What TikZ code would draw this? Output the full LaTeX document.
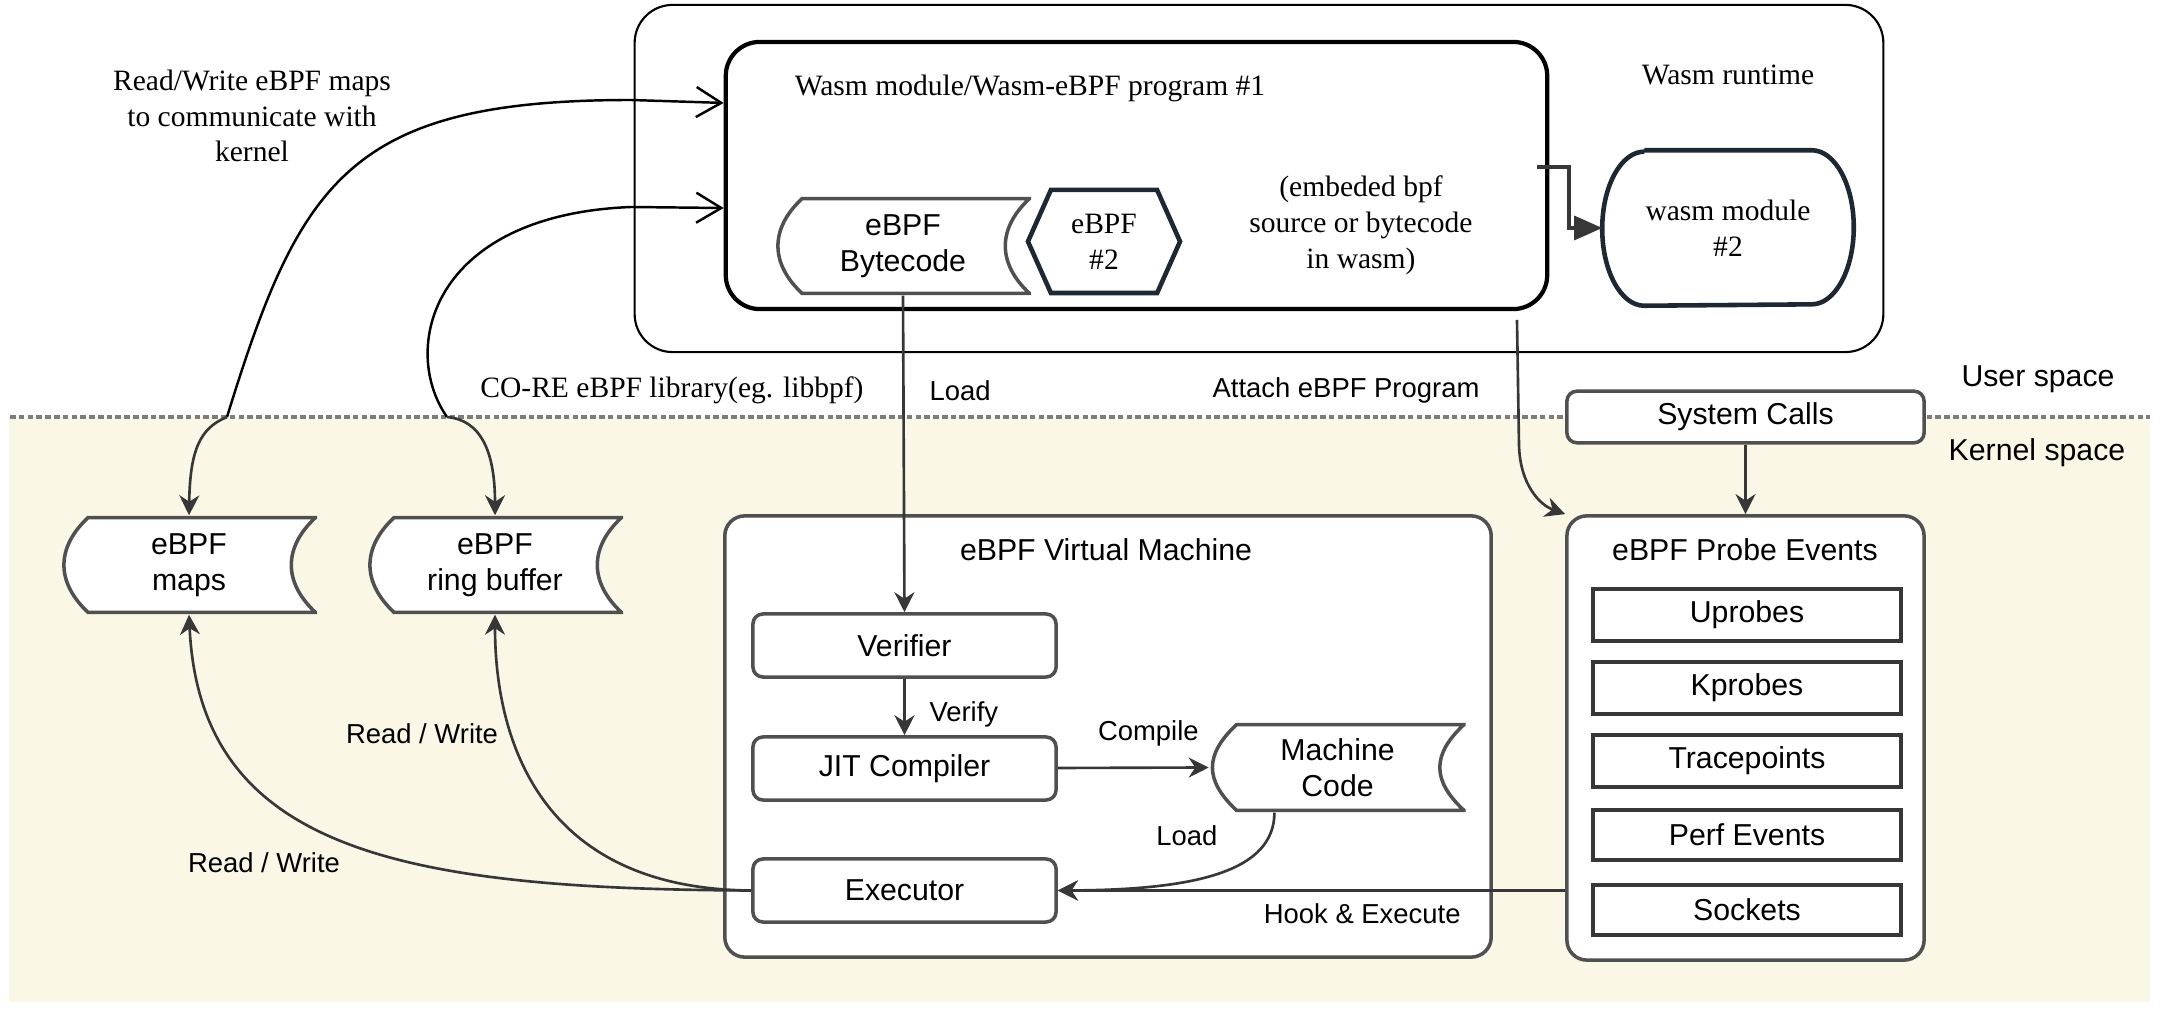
\documentclass[tikz,border=0pt]{standalone}
\usepackage{fontspec}
\setmainfont{Liberation Serif}
\setsansfont{Liberation Sans}
\usetikzlibrary{arrows.meta,shapes.symbols}

\definecolor{kbeige}{RGB}{251,247,231}
\definecolor{kline}{RGB}{55,55,55}
\definecolor{kbox}{RGB}{80,80,80}
\definecolor{knavy}{RGB}{30,40,50}
\definecolor{kdash}{RGB}{125,125,125}

\begin{document}
\begin{tikzpicture}[x=0.01cm, y=-0.01cm,
    serif/.style={font=\fontsize{8.4}{10.2}\selectfont, align=center},
    sans/.style={font=\sffamily\fontsize{8.6}{10.2}\selectfont, align=center},
    lbl/.style={font=\sffamily\fontsize{7.8}{9}\selectfont},
    box/.style={draw=kbox, line width=1pt, fill=white, rounded corners=1mm, sans, minimum width=3.03cm, minimum height=0.63cm},
    probe/.style={draw=kline, line width=1pt, fill=white, sans, minimum width=3.08cm, minimum height=0.5cm},
    store/.style={sans, inner sep=0pt, minimum width=2.56cm, minimum height=#1, path picture={
      \draw[kbox, line width=1pt, fill=white]
        ([shift={(2.7mm,-0.5pt)}]path picture bounding box.north west)
        -- ([shift={(-0.5pt,-0.5pt)}]path picture bounding box.north east)
        .. controls +(-3.2mm,-3mm) and +(-3.2mm,3mm) .. ([shift={(-0.5pt,0.5pt)}]path picture bounding box.south east)
        -- ([shift={(2.7mm,0.5pt)}]path picture bounding box.south west)
        .. controls +(-3.2mm,3mm) and +(-3.2mm,-3mm) .. ([shift={(2.7mm,-0.5pt)}]path picture bounding box.north west)
        -- cycle;}},
    arr/.style={draw=kline, line width=0.75pt, -{Stealth[length=2mm, width=2mm]}},
    barb/.style={draw=black, line width=0.7pt, -{Straight Barb[length=2.5mm, width=3mm]}}]

    \useasboundingbox (0,0) rectangle (2168,1016);
    \fill[white] (0,0) rectangle (2168,1016);

    % kernel space
    \fill[kbeige] (9,417) rectangle (2150,1002);
    \draw[kdash, line width=1pt, dash pattern=on 1.6pt off 0.9pt] (10,417) -- (2150,417);
    \node[sans] (user) at (2038,379) {User space};
    \node[sans] (kern) at (2037,453) {Kernel space};

    % Wasm runtime
    \node[draw, line width=0.6pt, rounded corners=3.8mm, minimum width=12.48cm, minimum height=3.47cm] (runtime) at (1259,178.5) {};
    \node[serif] (rtlabel) at (1728,75) {Wasm runtime};
    \node[draw, line width=1.2pt, rounded corners=3.4mm, minimum width=8.21cm, minimum height=2.67cm] (prog) at (1136.5,175.5) {};
    \node[serif] (proglabel) at (1030,88) {Wasm module/Wasm-eBPF program \#1};
    \node[store=0.98cm] (bytecode) at (903,246) {eBPF\\Bytecode};
    \node[signal, signal to=west and east, signal pointer angle=132, draw=knavy, line width=1.3pt, serif, minimum width=1.52cm, minimum height=1.03cm, inner sep=0pt] (ebpf2) at (1104,241.5) {eBPF\\\#2};
    \node[serif] (embed) at (1361,225) {(embeded bpf\\source or bytecode\\in wasm)};
    \node[serif, minimum width=2.5cm, minimum height=1.54cm] (wmod) at (1728,228) {wasm module\\\#2};
    \draw[knavy, line width=1.3pt] ([xshift=4.2mm]wmod.north west) -- ([xshift=-4.2mm]wmod.north east)
        arc[start angle=90, end angle=-90, x radius=4.2mm, y radius=7.7mm]
        -- ([xshift=4.2mm]wmod.south west)
        arc[start angle=270, end angle=90, x radius=4.2mm, y radius=7.7mm];
    \coordinate (tap) at (1537,167);
    \draw[draw=kline, line width=0.9pt, -{Triangle[length=2.8mm, width=2.4mm]}] (tap) -- (1569,167) |- (wmod.west);

    % maps and ring buffer
    \node[store=0.98cm] (maps) at (189,565) {eBPF\\maps};
    \node[store=0.98cm] (ring) at (495,565) {eBPF\\ring buffer};
    \node[serif] (rwtext) at (252,116) {Read/Write eBPF maps\\to communicate with\\kernel};
    \node[serif] (core) at (672,390) {CO-RE eBPF library(eg. libbpf)};
    \coordinate (mj) at (227,417);
    \coordinate (rj) at (447,417);
    \draw[barb] (mj) .. controls (300,180) and (350,100) .. (631,100) -- ([yshift=7.25mm]prog.west);
    \draw[barb] (rj) .. controls (400,350) and (430,215) .. (631,207) -- ([yshift=-3.25mm]prog.west);
    \draw[arr] (mj) .. controls (200,428) and (190,450) .. (maps.north);
    \draw[arr] (rj) .. controls (480,420) and (495,450) .. (ring.north);

    % eBPF virtual machine
    \node[draw=kbox, line width=1pt, fill=white, rounded corners=2mm, minimum width=7.66cm, minimum height=4.41cm] (vm) at (1108,736.5) {};
    \node[sans] (vmlabel) at (1106,550) {eBPF Virtual Machine};
    \node[box] (verifier) at (904.5,645.5) {Verifier};
    \node[box] (jit) at (904.5,768.5) {JIT Compiler};
    \node[box] (executor) at (904.5,890.5) {Executor};
    \node[store=0.89cm] (mcode) at (1337.5,767.5) {Machine\\Code};

    % probe events
    \node[draw=kbox, line width=1pt, fill=white, rounded corners=1mm, sans, minimum width=3.57cm, minimum height=0.48cm] (syscalls) at (1745.5,417) {System Calls};
    \node[draw=kbox, line width=1pt, fill=white, rounded corners=2mm, minimum width=3.57cm, minimum height=4.44cm] (probes) at (1745.5,738) {};
    \node[sans] (probelabel) at (1745,550) {eBPF Probe Events};
    \foreach \y/\name/\txt in {615/up/Uprobes, 688/kp/Kprobes, 761/tp/Tracepoints, 835/pe/Perf Events, 910/so/Sockets}
        \node[probe] (\name) at (1747,\y) {\txt};

    % connectors
    \draw[arr] (bytecode.south) -- node[lbl, right=1.3mm, pos=0.3] (loadlbl) {Load} (verifier.north);
    \draw[arr] (verifier) -- node[lbl, right=1.2mm, pos=0.63] (verlbl) {Verify} (jit);
    \draw[arr] (jit) -- node[lbl, above=0.8mm, pos=0.6] (complbl) {Compile} (mcode.west);
    \draw[arr] ([xshift=-6.3mm]mcode.south) .. controls (1274,870) and (1200,890) .. (executor.east);
    \node[lbl] (load2lbl) at (1187,836) {Load};
    \draw[arr] (executor.east -| probes.west) -- node[lbl, below, pos=0.4] (hooklbl) {Hook \& Execute} (executor.east);
    \draw[arr] (syscalls) -- (probes);
    \coordinate (atk) at (1517,320);
    \draw[arr] (atk) -- (1519,445) .. controls (1520,485) and (1540,505) .. (probes.north west);
    \node[lbl] (attach) at (1346,390) {Attach eBPF Program};
    \draw[arr] (executor.west) .. controls (400,889) and (200,850) .. (maps.south);
    \draw[arr] (executor.west) .. controls (540,889) and (495,740) .. (ring.south);
    \node[lbl] (rw1) at (422,734) {Read / Write};
    \node[lbl] (rw2) at (264,863) {Read / Write};

\end{tikzpicture}
\end{document}
